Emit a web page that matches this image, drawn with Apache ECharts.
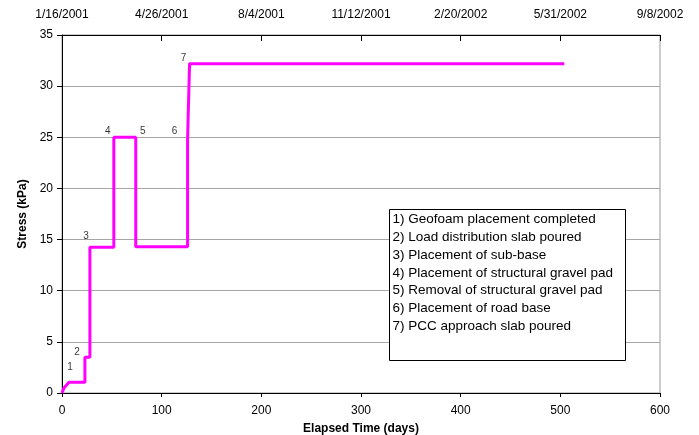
<!DOCTYPE html>
<html><head><meta charset="utf-8">
<script src="https://cdn.jsdelivr.net/npm/echarts@6/dist/echarts.min.js"></script>
<style>html,body{margin:0;padding:0;background:#fff}#c{width:699px;height:435px}</style>
</head><body><div id="c"></div>
<script>
// Step curve: [elapsed days, stress kPa]
var stressCurve = [[0,0],[2,0.5],[4,0.65],[7,1.05],[23,1.05],[23,3.5],[28,3.5],[28,14.25],[52,14.25],[52,25],[74,25],[74,14.3],[126,14.3],[126,24.8],[128,24.9],[128,32.2],[504,32.2]];
// Event markers: [day, stress, label]
var eventLabels = [[8,2.5,'1'],[15,4.0,'2'],[24,15.3,'3'],[46,25.6,'4'],[81,25.6,'5'],[113,25.6,'6'],[122,32.7,'7']];
var topDateLabels = ['1/16/2001','4/26/2001','8/4/2001','11/12/2001','2/20/2002','5/31/2002','9/8/2002'];
var notes = ['1) Geofoam placement completed','2) Load distribution slab poured','3) Placement of sub-base','4) Placement of structural gravel pad','5) Removal of structural gravel pad','6) Placement of road base','7) PCC approach slab poured'];

var FONT = 'Liberation Sans, Arial, sans-serif';
var chart = echarts.init(document.getElementById('c'));
var noteText = notes.join('\n');
chart.setOption({
  animation: false,
  grid: {left: 62, right: 39, top: 35, bottom: 42, show: true, borderColor: '#999', borderWidth: 1,
         containLabel: false, outerBoundsMode: 'none'},
  xAxis: [{
    type: 'value', position: 'bottom', min: 0, max: 600, interval: 100,
    name: 'Elapsed Time (days)', nameLocation: 'middle', nameGap: 30,
    nameTextStyle: {fontFamily: FONT, fontWeight: 'bold', fontSize: 12, color: '#000'},
    axisLine: {show: true, lineStyle: {color: '#000', width: 1}},
    axisTick: {show: true, length: 4, lineStyle: {color: '#000'}},
    axisLabel: {fontFamily: FONT, fontSize: 12, color: '#000', margin: 12},
    splitLine: {show: false}
  }, {
    type: 'value', position: 'top', min: 0, max: 600, interval: 100,
    axisLine: {show: true, onZero: false, lineStyle: {color: '#000', width: 1}},
    axisTick: {show: true, inside: true, length: 6, lineStyle: {color: '#000', width: 1}},
    axisLabel: {fontFamily: FONT, fontSize: 12, color: '#000', margin: 14,
      formatter: function(v){ return topDateLabels[Math.round(v/100)] || ''; }},
    splitLine: {show: false}
  }],
  yAxis: {
    type: 'value', min: 0, max: 35, interval: 5,
    name: 'Stress (kPa)', nameLocation: 'middle', nameGap: 30,
    nameTextStyle: {fontFamily: FONT, fontWeight: 'bold', fontSize: 12, color: '#000'},
    axisLine: {show: true, lineStyle: {color: '#000', width: 1}},
    axisTick: {show: true, length: 5, lineStyle: {color: '#000'}},
    axisLabel: {fontFamily: FONT, fontSize: 12, color: '#000', margin: 9},
    splitLine: {show: true, lineStyle: {color: '#a6a6a6', width: 1}}
  },
  series: [{
    type: 'line', data: stressCurve, showSymbol: false, symbol: 'none',
    lineStyle: {color: '#ff00ff', width: 3}, z: 5
  }, {
    type: 'scatter', symbolSize: 0, data: eventLabels.map(function(e){ return [e[0], e[1], e[2]]; }),
    label: {show: true, position: 'inside', fontFamily: FONT, fontSize: 10, color: '#000',
      formatter: function(p){ return p.data[2]; }},
    z: 6
  }],
  graphic: [{
    type: 'group', left: 389, top: 209, z: 100,
    children: [{
      type: 'rect', z: 100, shape: {x: 0, y: 0, width: 236, height: 151},
      style: {fill: '#fff', stroke: '#000', lineWidth: 1}
    }, {
      type: 'text', z: 101, x: 3, y: 1,
      style: {text: noteText, font: '13.5px ' + FONT, fill: '#000', lineHeight: 17.8}
    }]
  }]
});
</script></body></html>
